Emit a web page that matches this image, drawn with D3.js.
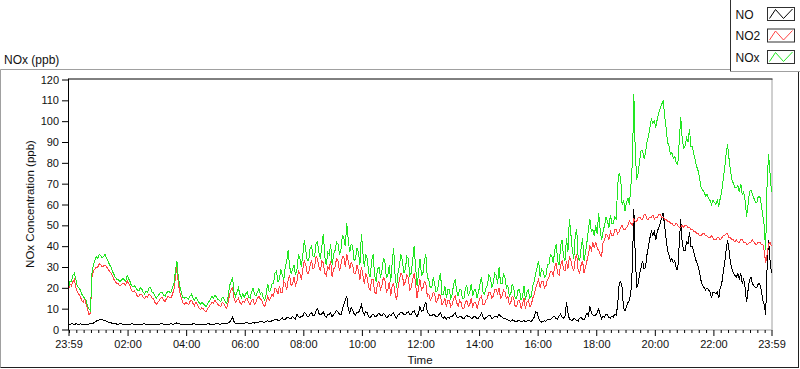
<!DOCTYPE html>
<html><head><meta charset="utf-8">
<script src="https://cdn.jsdelivr.net/npm/d3@7"></script>
<style>
body{margin:0;background:#fff}
svg{display:block}
text{font-family:"Liberation Sans",Arial,sans-serif;fill:#111}
</style>
</head><body><svg id="c" width="800" height="369"></svg>
<script>
// Samples every 3 minutes from 23:59 to 23:59 next day (481 samples, 20 per row = one hour)
const stepMinutes = 3;
const seriesNames = ["NO", "NO2", "NOx"];
const seriesColors = ["#000000", "#ff4444", "#22e622"];
const yTickValues = [0,10,20,30,40,50,60,70,80,90,100,110,120];

const noValues = [
 2.5,2.3,2.8,2.6,2.4,2.7,2.6,2.3,2.7,2.5,2.3,2.6,2.5,2.4,2.6,2.8,2.8,3.1,3.5,4,
 4.5,4.6,4.8,4.7,4.5,4.2,4,3.6,3.3,3.2,3,2.9,2.8,2.6,2.5,2.7,2.7,2.5,2.6,2.4,
 2.6,2.4,2.5,2.7,2.7,2.5,2.4,2.6,2.6,2.3,2.5,2.7,2.7,2.5,2.4,2.6,2.5,2.3,2.6,2.5,
 2.6,2.4,2.5,2.7,2.7,2.5,2.6,2.4,2.5,2.6,2.8,2.5,2.6,2.9,3.2,2.8,2.7,2.5,2.5,2.6,
 2.4,2.5,2.6,2.4,2.5,2.7,2.7,2.5,2.5,2.3,2.4,2.6,2.6,2.4,2.5,2.7,2.7,2.5,2.6,2.4,
 2.6,2.7,2.8,2.6,2.5,2.9,3,2.7,2.7,3.1,3.5,4.5,6,3.8,3,2.8,2.7,2.9,2.8,3,
 3,3.2,3.3,2.9,2.8,3.1,3.4,3.1,3.2,3.5,3.6,3.9,4,3.4,3.5,4,4.2,3.7,3.8,4.3,
 4.5,4.9,5,4.4,4.2,5.1,5.5,4.6,4.8,5.7,6,5.1,5.2,6.3,5.5,4.9,7.5,6.2,5.8,6.4,
 6.5,8.2,7.5,6.3,6,7.4,8,6.6,7,9,10,7.8,7,7.6,8.5,6.7,6,7.2,7,8.1,
 6,7.1,8,9.2,8.5,7.3,7,9.5,12,14,16,10,8,10.5,9.5,7.6,7,8.4,8,9.8,
 12,8.5,7,8.6,8,6.2,5.5,6.8,7.5,6.4,6,7.1,8,6.8,6.5,7.6,7,5.9,6,7.2,
 6.5,7.4,8,6.2,5.5,6.9,7.5,8.3,8,7.1,7,8,8.5,7.2,7,8.4,9,7.3,6,7.8,
 11,8.7,9,11.5,13,8.6,7.5,6.6,6.5,7.4,7,6.2,6,7.3,8,6.1,5.5,6.2,5,5.9,
 5.5,6.4,6,7.2,8,6.1,5.5,6.3,6.5,5.4,5,6.2,7,6.1,6,5.3,5.5,6.4,6,5.2,
 5.5,6.6,8,6,5,5.7,6,6.8,6.5,5.4,5.5,6.3,6.5,5.9,7.5,6.2,6,5.2,5.5,4.9,
 4.5,4.2,4,4.6,4.3,3.9,3.8,4.4,4.2,3.8,4,4.3,3.8,4.1,4.5,4.1,4,4.8,6,8.5,
 8,5.5,4,3.6,3.8,4.2,4,4.6,5,4.7,5.5,6.2,6,5.2,5,6.5,7.5,6,5.5,6.4,
 13,8,5,4.6,4.5,5.3,5,4.2,4,5.5,6,4.8,4.5,6.2,8,6.5,11,8,7,6.5,
 7,8,10,7,5,6.5,6,7.5,7,5.8,5.5,6.5,6,7.4,7,12,22,23,20,10,
 9,11,13,14,18,30,58,35,20,22,27,30,33,29,30,36,40,44,47,45,
 47,43,47,49,51,54,56,50,44,38,36,33,34,32,33,29,29,41,53,42,
 38,38,42,41,47,40,40,37,34,32,30,27,23,21,20,19,20,19,18,15,
 18,18,17,18,15,20,22,27,32,38,43,38,32,29,27,26,25,27,24,27,
 22,24,20,13,19,24,25,22,21,20,20,22,22,19,14,12,7,30,43,33,27
];

const no2Values = [
 19,22,21,23,24,20,18,17,16,14,13,15,12,10,7,8,25,28,29,30,
 30,31.5,31,30,30.5,31,30,29,28,27,26,24,23,22,22,21,21.5,22,22,21,
 23.5,22,21,19,18,18.5,17.5,16,16,17,17,15.5,15,16,15.5,17,16.5,15,15,13,
 12,13,14,15,15.5,14,13.5,15,16,15.5,15,17,19,25,30,22,18,15,13,12,
 13,12.5,12,13.5,14,12.5,11.5,13,12,10.5,9.5,10.5,10,9,8.5,10,11,12,13,12.5,
 14,13,12,11.5,11,13,12.5,11,10,13,17,19,20,15,13,14,15,13,12,13.5,
 13,14.5,15,13,12,14,14.5,12,13,15,16,14.5,14,12,11,13.5,16,14,15,17,
 16,20,19,17,21,18,18,23,22,19,24,26,21,22,25,21,23,28,27,24,
 29,33,31,27,27,31,33,29,30,35,34,30,28,33,32,27,26,30,29,33,
 25,29,30,34,33,28,31,35,35,30,36,33,29,32,31,27,27,31,28,24,
 30,26,22,27,25,20,19,24,24,18,17,22,23,19,21,25,24,18,19,23,
 16,21,22,17,14,20,24,27,26,21,23,26,25,19,20,24,27,22,15,20,
 24,19,20,23,22,16,17,14,15,18,17,13,14,17,16,12,13,15,11,14,
 14,11,12,15,16,13,11,14,13,10,10,13,14,11,12,15,11,13,13,10,
 13,15,16,12,12,14,15,18,18,15,16,19,19,17,20,15,16,19,18,15,
 16,12,13,16,15,11,11,14,14,10,12,15,10,13,14,11,12,15,17,20,
 22,24,20,23,23,20,21,24,25,28,28,26,30,32,27,26,31,33,29,28,
 33,29,35,33,30,28,34,36,28,27,31,33,27,30,33,36,40,38,42,39,
 42,39,38,36,35,42,43,46,45,43,47,45,45,48,48,46,47,49,50,48,
 48,49,50,52,51,50,53,52,52,54,54,53,53,55,55,53,53,54,54,55,
 53,54,54,55,55,54,54,53,53,52,52,51,51,50,50,51,50,49,49,50,
 49,50,50,49,49,48,48,47,47,46,46,45,45,46,46,45,45,44,44,45,
 44,43,43,44,44,43,44,45,45,46,46,44,44,43,43,42,43,42,42,43,
 43,42,42,41,41,42,42,43,42,41,41,42,42,41,41,38,32,36,41,42,40
];

const noxValues = [
 20,23,23,26,27,24,21,20,19,17,16,15,14,11,10,9,27,31,33,35,
 34,36,35.5,34.5,35,36,34,33,31,30,28,26.5,25,24,24,23,23.5,24.5,24,23,
 26,24.5,23,21,20.5,21,20,19,18.5,20,19.5,18,17,18.5,18,20,20,18,17.5,16,
 15,16,17,18,18,16.5,16,17.5,18.5,18,18,20,22,28,33,25,21,18,15.5,15,
 15.5,15,14.5,16,17,15,14,15.5,14.5,13,12,13,12.5,11.5,11,12.5,13.5,14.5,16,15,
 16.5,15.5,14.5,14,13.5,15.5,15,13.5,12.5,16,21,23,25,18,16,18,20,17,15,17,
 15.5,17,18,15.5,15,18,20,17,16,18,19.5,17,18,15,14,17,22,18,19,22,
 22,27,28,23,24,29,26,24,30,33,38,30,27,29,31,26,29,36,34,30,
 36,43,38,33,33,39,40,35,35,41,42,37,34,40,46,35,31,37,36,41,
 31,36,38,42,41,36,38,45,44,40,51,43,37,41,40,33,34,39,37,31,
 46,37,30,36,34,27,25,33,36,26,23,29,30,25,28,34,33,25,26,31,
 23,32,39,26,20,27,31,36,33,27,29,35,34,26,27,33,40,30,21,27,
 34,26,27,33,36,25,24,20,20,25,22,18,19,24,27,17,17,21,15,19,
 19,15,17,22,24,19,16,19,19,15,15,20,21,16,18,22,16,19,19,15,
 18,22,25,18,17,20,21,26,25,20,22,27,26,22,30,22,22,27,25,20,
 21,16,17,22,20,15,15,19,19,14,16,21,14,18,19,15,16,21,23,27,
 30,33,25,29,28,25,26,31,31,36,35,32,38,41,33,31,40,43,35,33,
 44,37,53,46,38,34,45,48,34,33,39,44,33,37,42,48,53,47,48,45,
 50,46,56,48,43,47,50,54,52,49,55,51,51,54,53,70,75,73,60,62,
 57,61,63,60,69,80,113,85,72,75,81,86,86,82,85,90,93,97,101,99,
 100,97,101,104,106,108,110,103,97,90,88,84,85,82,83,80,79,90,102,92,
 87,88,92,90,96,88,88,84,81,78,76,72,68,67,66,64,65,63,62,60,
 62,61,60,62,59,63,66,72,77,84,89,82,76,72,70,68,68,69,66,70,
 65,66,62,54,60,66,67,65,63,61,61,64,64,60,55,50,38,70,84,75,66
];

const start = new Date(2020, 0, 1, 23, 59);
const end = new Date(2020, 0, 2, 23, 59);
const times = noValues.map((_, i) => new Date(+start + i * stepMinutes * 60000));

const svg = d3.select("#c");
const L = 68.5, R = 771.5, T = 79.5, B = 329.5;

const x = d3.scaleTime().domain([start, end]).range([L, R]);
const y = d3.scaleLinear().domain([0, 120]).range([B, T]);

// outer panel frame
svg.append("line").attr("x1",0.5).attr("x2",798.5).attr("y1",69.5).attr("y2",69.5).attr("stroke","#a0a0a0");
svg.append("line").attr("x1",0.5).attr("x2",0.5).attr("y1",69.5).attr("y2",367.5).attr("stroke","#a0a0a0");
svg.append("line").attr("x1",0.5).attr("x2",799).attr("y1",367.5).attr("y2",367.5).attr("stroke","#202020");
svg.append("line").attr("x1",798.5).attr("x2",798.5).attr("y1",69.5).attr("y2",368).attr("stroke","#202020");

// title
svg.append("text").attr("x",4).attr("y",64).attr("font-size","12px").text("NOx (ppb)");

// plot frame: bottom/right gray
svg.append("line").attr("x1",L).attr("x2",R).attr("y1",B+0.5).attr("y2",B+0.5).attr("stroke","#a0a0a0");
svg.append("line").attr("x1",R+0.5).attr("x2",R+0.5).attr("y1",T-0.5).attr("y2",B+1).attr("stroke","#a0a0a0");

// series lines
const line = d3.line().x((d,i) => x(times[i])).y(d => y(d));
const allSeries = [noValues, no2Values, noxValues];
allSeries.forEach((vals, k) => {
  svg.append("path").datum(vals)
    .attr("fill","none").attr("stroke", seriesColors[k]).attr("stroke-width",1)
    .attr("shape-rendering","crispEdges")
    .attr("d", line);
});

// plot frame: top/left black
svg.append("line").attr("x1",L).attr("x2",R+1).attr("y1",T-0.5).attr("y2",T-0.5).attr("stroke","#000");
svg.append("line").attr("x1",L).attr("x2",L).attr("y1",T-1).attr("y2",B+1).attr("stroke","#000");

// Y axis
const yAxis = d3.axisLeft(y).tickValues(yTickValues).tickSize(6).tickPadding(3).tickSizeOuter(0);
const gy = svg.append("g").attr("transform",`translate(${L-0.5},0)`).call(yAxis);
gy.select(".domain").remove();
gy.selectAll("text").attr("font-size","11px").attr("font-family","Liberation Sans, Arial, sans-serif").attr("fill","#111");
gy.selectAll("line").attr("stroke","#000");

// X axis major: the two 23:59 ends plus every even hour in between
const evenHours = d3.timeHour.every(2).range(new Date(+start + 30*60000), new Date(+end - 30*60000));
const majorTicks = [start].concat(evenHours).concat([end]);
const xAxis = d3.axisBottom(x).tickValues(majorTicks).tickFormat(d3.timeFormat("%H:%M")).tickSize(6).tickPadding(4).tickSizeOuter(0);
const gx = svg.append("g").attr("transform",`translate(0,${B+0.5})`).call(xAxis);
gx.select(".domain").remove();
gx.selectAll("text").attr("font-size","11px").attr("font-family","Liberation Sans, Arial, sans-serif").attr("fill","#111");
gx.selectAll("line").attr("stroke","#000");

// X axis minor
const minorTicks = d3.timeMinute.every(15).range(new Date(+start+60000), end)
  .filter(d => !(d.getMinutes() === 0 && d.getHours() % 2 === 0 && d.getHours() !== 0));
const xMinor = d3.axisBottom(x).tickValues(minorTicks).tickFormat("").tickSize(3).tickSizeOuter(0);
const gxm = svg.append("g").attr("transform",`translate(0,${B+0.5})`).call(xMinor);
gxm.select(".domain").remove();
gxm.selectAll("line").attr("stroke","#000");

// axis titles
svg.append("text").attr("x",(L+R)/2).attr("y",364).attr("text-anchor","middle").attr("font-size","11.5px").text("Time");
svg.append("text").attr("transform","translate(34,204) rotate(-90)").attr("text-anchor","middle").attr("font-size","11.5px").text("NOx Concentration (ppb)");

// legend
const lg = svg.append("g");
lg.append("rect").attr("x",730.5).attr("y",-1).attr("width",75).attr("height",72).attr("fill","#fff").attr("stroke","none");
lg.append("line").attr("x1",730.5).attr("x2",730.5).attr("y1",0).attr("y2",71.5).attr("stroke","#303030");
lg.append("line").attr("x1",730.5).attr("x2",800).attr("y1",71.5).attr("y2",71.5).attr("stroke","#a0a0a0");
seriesNames.forEach((name, k) => {
  const top = 7.5 + k * 21.5;
  lg.append("text").attr("x",735.5).attr("y",top+11).attr("font-size","12px").text(name);
  lg.append("rect").attr("x",767.5).attr("y",top).attr("width",27).attr("height",13)
    .attr("fill","#fff").attr("stroke","#303030");
  const zz = [[769.5, top+11], [775.5, top+2], [783.5, top+11], [792.5, top+1.5]];
  lg.append("path").attr("d", d3.line()(zz)).attr("fill","none").attr("stroke",seriesColors[k]);
});
</script>
</body></html>
